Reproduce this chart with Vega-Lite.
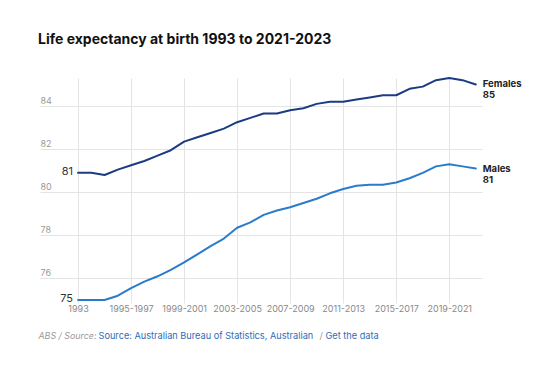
{
  "$schema": "https://vega.github.io/schema/vega-lite/v6.json",
  "width": 442,
  "height": 222,
  "autosize": {"type": "none"},
  "padding": {"left": 40, "top": 78, "right": 59, "bottom": 66},
  "background": "white",
  "title": {
    "text": "Life expectancy at birth 1993 to 2021-2023",
    "anchor": "start",
    "frame": "group",
    "dx": -2,
    "offset": 19.5,
    "baseline": "alphabetic",
    "font": "Inter",
    "fontSize": 14,
    "fontWeight": 700,
    "color": "#111111"
  },
  "config": {"view": {"stroke": null}, "font": "Inter"},
  "data": {
    "values": [
      {"i": 0, "sex": "Females", "value": 80.9},
      {"i": 1, "sex": "Females", "value": 80.9},
      {"i": 2, "sex": "Females", "value": 80.8},
      {"i": 3, "sex": "Females", "value": 81.05},
      {"i": 4, "sex": "Females", "value": 81.25},
      {"i": 5, "sex": "Females", "value": 81.45},
      {"i": 6, "sex": "Females", "value": 81.7},
      {"i": 7, "sex": "Females", "value": 81.95},
      {"i": 8, "sex": "Females", "value": 82.35},
      {"i": 9, "sex": "Females", "value": 82.55},
      {"i": 10, "sex": "Females", "value": 82.75},
      {"i": 11, "sex": "Females", "value": 82.95},
      {"i": 12, "sex": "Females", "value": 83.25},
      {"i": 13, "sex": "Females", "value": 83.45},
      {"i": 14, "sex": "Females", "value": 83.65},
      {"i": 15, "sex": "Females", "value": 83.65},
      {"i": 16, "sex": "Females", "value": 83.8},
      {"i": 17, "sex": "Females", "value": 83.9},
      {"i": 18, "sex": "Females", "value": 84.1},
      {"i": 19, "sex": "Females", "value": 84.2},
      {"i": 20, "sex": "Females", "value": 84.2},
      {"i": 21, "sex": "Females", "value": 84.3},
      {"i": 22, "sex": "Females", "value": 84.4},
      {"i": 23, "sex": "Females", "value": 84.5},
      {"i": 24, "sex": "Females", "value": 84.5},
      {"i": 25, "sex": "Females", "value": 84.8},
      {"i": 26, "sex": "Females", "value": 84.9},
      {"i": 27, "sex": "Females", "value": 85.2},
      {"i": 28, "sex": "Females", "value": 85.3},
      {"i": 29, "sex": "Females", "value": 85.2},
      {"i": 30, "sex": "Females", "value": 85.0},
      {"i": 0, "sex": "Males", "value": 75.0},
      {"i": 1, "sex": "Males", "value": 75.0},
      {"i": 2, "sex": "Males", "value": 75.0},
      {"i": 3, "sex": "Males", "value": 75.2},
      {"i": 4, "sex": "Males", "value": 75.55},
      {"i": 5, "sex": "Males", "value": 75.85},
      {"i": 6, "sex": "Males", "value": 76.1},
      {"i": 7, "sex": "Males", "value": 76.4},
      {"i": 8, "sex": "Males", "value": 76.75},
      {"i": 9, "sex": "Males", "value": 77.12},
      {"i": 10, "sex": "Males", "value": 77.5},
      {"i": 11, "sex": "Males", "value": 77.85},
      {"i": 12, "sex": "Males", "value": 78.35},
      {"i": 13, "sex": "Males", "value": 78.6},
      {"i": 14, "sex": "Males", "value": 78.95},
      {"i": 15, "sex": "Males", "value": 79.15},
      {"i": 16, "sex": "Males", "value": 79.3},
      {"i": 17, "sex": "Males", "value": 79.5},
      {"i": 18, "sex": "Males", "value": 79.7},
      {"i": 19, "sex": "Males", "value": 79.95},
      {"i": 20, "sex": "Males", "value": 80.15},
      {"i": 21, "sex": "Males", "value": 80.3},
      {"i": 22, "sex": "Males", "value": 80.35},
      {"i": 23, "sex": "Males", "value": 80.35},
      {"i": 24, "sex": "Males", "value": 80.45},
      {"i": 25, "sex": "Males", "value": 80.65},
      {"i": 26, "sex": "Males", "value": 80.9},
      {"i": 27, "sex": "Males", "value": 81.2},
      {"i": 28, "sex": "Males", "value": 81.3},
      {"i": 29, "sex": "Males", "value": 81.2},
      {"i": 30, "sex": "Males", "value": 81.1}
    ]
  },
  "layer": [
    {
      "mark": {"type": "line", "strokeWidth": 2, "strokeJoin": "round", "strokeCap": "round"},
      "encoding": {
        "x": {
          "field": "i",
          "type": "quantitative",
          "scale": {"domain": [-2.87, 30.47], "nice": false, "zero": false},
          "axis": {
            "orient": "bottom",
            "values": [0, 4, 8, 12, 16, 20, 24, 28],
            "labelExpr": "datum.value == 0 ? '1993' : (1991 + datum.value) + '-' + (1993 + datum.value)",
            "grid": true,
            "gridColor": "#e4e4e4",
            "gridWidth": 1,
            "ticks": true,
            "tickColor": "#e4e4e4",
            "tickSize": 3,
            "domain": false,
            "labelFont": "Inter",
            "labelFontSize": 9,
            "labelColor": "#8a8a8a",
            "labelPadding": 1,
            "labelFlush": false,
            "title": "ABS / Source:",
            "titleFont": "Inter",
            "titleFontStyle": "italic",
            "titleFontWeight": "normal",
            "titleFontSize": 8.9,
            "titleColor": "#9a9a9a",
            "titleX": -2,
            "titleY": 38,
            "titleAlign": "left",
            "titleAnchor": "start",
            "titleBaseline": "alphabetic"
          }
        },
        "y": {
          "field": "value",
          "type": "quantitative",
          "scale": {"domain": [75, 85.3], "nice": false, "zero": false},
          "axis": {
            "orient": "left",
            "values": [76, 78, 80, 82, 84],
            "grid": true,
            "gridColor": "#e4e4e4",
            "gridWidth": 1,
            "ticks": false,
            "domain": false,
            "labelAlign": "left",
            "labelPadding": 0,
            "labelBaseline": "alphabetic",
            "labelOffset": -3,
            "labelFont": "Inter",
            "labelFontSize": 9,
            "labelColor": "#9a9a9a",
            "title": "Source: Australian Bureau of Statistics, Australian",
            "titleFont": "Inter",
            "titleFontWeight": "normal",
            "titleFontSize": 9.2,
            "titleColor": "#2f6db5",
            "titleAngle": 0,
            "titleX": 58,
            "titleY": 260,
            "titleAlign": "left",
            "titleBaseline": "alphabetic"
          }
        },
        "color": {
          "field": "sex",
          "type": "nominal",
          "scale": {"domain": ["Females", "Males"], "range": ["#1b3b82", "#2a7ccb"]},
          "legend": null
        }
      }
    },
    {
      "transform": [{"filter": "datum.i == 0"}],
      "mark": {"type": "text", "align": "right", "baseline": "middle", "dx": -5, "dy": -1, "fontSize": 11, "font": "Inter", "color": "#333333"},
      "encoding": {
        "x": {
          "field": "i",
          "type": "quantitative",
          "scale": {"domain": [-2.87, 30.47], "nice": false, "zero": false},
          "axis": {
            "orient": "bottom",
            "labels": false,
            "ticks": false,
            "grid": false,
            "domain": false,
            "title": "/",
            "titleFont": "Inter",
            "titleFontWeight": "normal",
            "titleFontSize": 9.2,
            "titleColor": "#9a9a9a",
            "titleX": 279,
            "titleY": 38,
            "titleAlign": "left",
            "titleAnchor": "start",
            "titleBaseline": "alphabetic"
          }
        },
        "y": {
          "field": "value",
          "type": "quantitative",
          "scale": {"domain": [75, 85.3], "nice": false, "zero": false},
          "axis": {
            "orient": "left",
            "labels": false,
            "ticks": false,
            "grid": false,
            "domain": false,
            "title": "Get the data",
            "titleFont": "Inter",
            "titleFontWeight": "normal",
            "titleFontSize": 9.2,
            "titleColor": "#2f6db5",
            "titleAngle": 0,
            "titleX": 285,
            "titleY": 260,
            "titleAlign": "left",
            "titleBaseline": "alphabetic"
          }
        },
        "text": {"field": "value", "type": "quantitative", "format": ".0f"}
      }
    },
    {
      "transform": [
        {"filter": "datum.i == 30"},
        {"calculate": "datum.sex + '\\n' + format(datum.value, '.0f')", "as": "label"}
      ],
      "mark": {"type": "text", "align": "left", "baseline": "alphabetic", "dx": 7, "dy": 3, "lineBreak": "\n", "lineHeight": 11, "fontSize": 9.5, "fontWeight": "bold", "font": "Inter", "color": "#222222"},
      "encoding": {
        "x": {"field": "i", "type": "quantitative", "scale": {"domain": [-2.87, 30.47], "nice": false, "zero": false}, "axis": null},
        "y": {"field": "value", "type": "quantitative", "scale": {"domain": [75, 85.3], "nice": false, "zero": false}, "axis": null},
        "text": {"field": "label"}
      }
    }
  ],
  "resolve": {"axis": {"x": "independent", "y": "independent"}}
}
